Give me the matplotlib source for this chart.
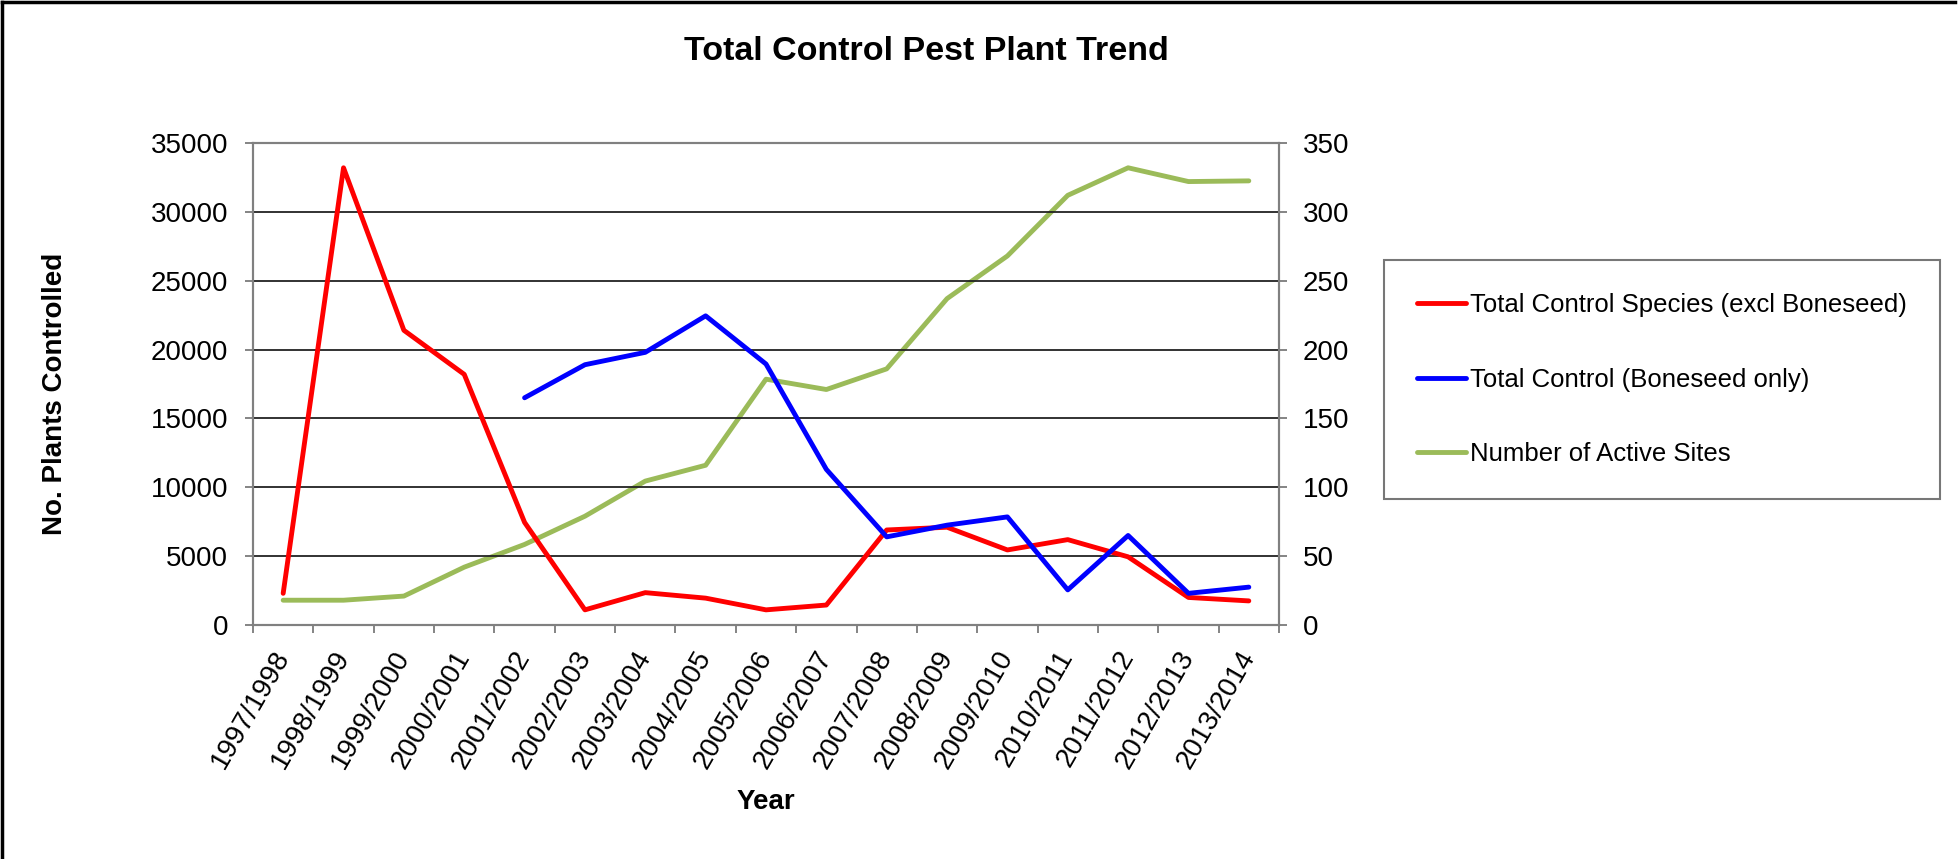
import matplotlib.pyplot as plt
import numpy as np
from matplotlib.lines import Line2D

plt.rcParams['font.family'] = ['Liberation Sans', 'DejaVu Sans']

# data
years = ['1997/1998', '1998/1999', '1999/2000', '2000/2001', '2001/2002', '2002/2003',
         '2003/2004', '2004/2005', '2005/2006', '2006/2007', '2007/2008', '2008/2009',
         '2009/2010', '2010/2011', '2011/2012', '2012/2013', '2013/2014']
species_excl = [2300, 33200, 21400, 18200, 7450, 1100, 2350, 1950, 1100, 1450,
                6900, 7100, 5450, 6200, 4950, 2000, 1750]
boneseed_only = [np.nan, np.nan, np.nan, np.nan, 16500, 18900, 19800, 22450, 18950, 11300,
                 6400, 7250, 7850, 2550, 6500, 2300, 2750]
active_sites = [18, 18, 21, 42, 58.5, 79, 104.5, 116, 178.5, 171,
                186, 237, 268, 312, 332, 322, 322.5]

fig = plt.figure(figsize=(19.59, 8.59), dpi=100)
ax = fig.add_axes([253 / 1959, 1 - 625 / 859, (1279 - 253) / 1959, (625 - 143) / 859])
ax2 = ax.twinx()

x = np.arange(len(years))
lw = 3.5
l1, = ax.plot(x, species_excl, color='#ff0000', lw=lw, solid_capstyle='round',
              label='Total Control Species (excl Boneseed)')
l2, = ax.plot(x, boneseed_only, color='#0000ff', lw=lw, solid_capstyle='round',
              label='Total Control (Boneseed only)')
l3, = ax2.plot(x, active_sites, color='#9bbb59', lw=lw, solid_capstyle='round',
               label='Number of Active Sites')
ax.set_zorder(ax2.get_zorder() + 1)
ax.patch.set_visible(False)

ax.set_xlim(-0.5, len(years) - 0.5)
ax.set_ylim(0, 35000)
ax2.set_ylim(0, 350)
ax.set_yticks(np.arange(0, 35001, 5000))
ax2.set_yticks(np.arange(0, 351, 50))
ax.yaxis.grid(True, color='#222222', lw=1.3)
ax.set_axisbelow(True)

ax.set_xticks(x)
ax.set_xticklabels(years, rotation=60, ha='right', va='center', rotation_mode='anchor')
ax.set_xticks(np.arange(-0.5, len(years)), minor=True)
ax.tick_params(axis='x', which='major', length=0, pad=20, labelsize=20)
ax.tick_params(axis='x', which='minor', length=6, width=1.2, color='#707070')
ax.tick_params(axis='y', length=6, width=1.2, color='#707070', pad=12, labelsize=20)
ax2.tick_params(axis='y', length=6, width=1.2, color='#707070', pad=11, labelsize=20)

for a in (ax, ax2):
    for s in a.spines.values():
        s.set_color('#808080')
        s.set_linewidth(1.5)

ax.set_xlabel('Year', fontsize=20, fontweight='bold', labelpad=11)
fig.text(55 / 1959, 1 - 394 / 859, 'No. Plants Controlled', rotation=90, fontsize=20,
         fontweight='bold', ha='center', va='center')
fig.text(926 / 1959, 1 - 52 / 859, 'Total Control Pest Plant Trend', fontsize=24.5,
         fontweight='bold', ha='center', va='center')

leg = fig.legend(handles=[l1, l2, l3], loc='upper left',
                 bbox_to_anchor=(1384 / 1959, 1 - 260 / 859), fontsize=18.5,
                 frameon=True, fancybox=False, edgecolor='#555555',
                 handlelength=1.9, handletextpad=0.15, labelspacing=1.95,
                 borderpad=1.3, borderaxespad=0)
leg.get_frame().set_linewidth(1.5)

# chart area border (top and left edges)
fig.add_artist(Line2D([0.001, 0.998], [0.998, 0.998], color='black', lw=2.5, transform=fig.transFigure))
fig.add_artist(Line2D([0.001, 0.001], [0.0, 0.998], color='black', lw=2.5, transform=fig.transFigure))

plt.savefig('out.png', dpi=100)
